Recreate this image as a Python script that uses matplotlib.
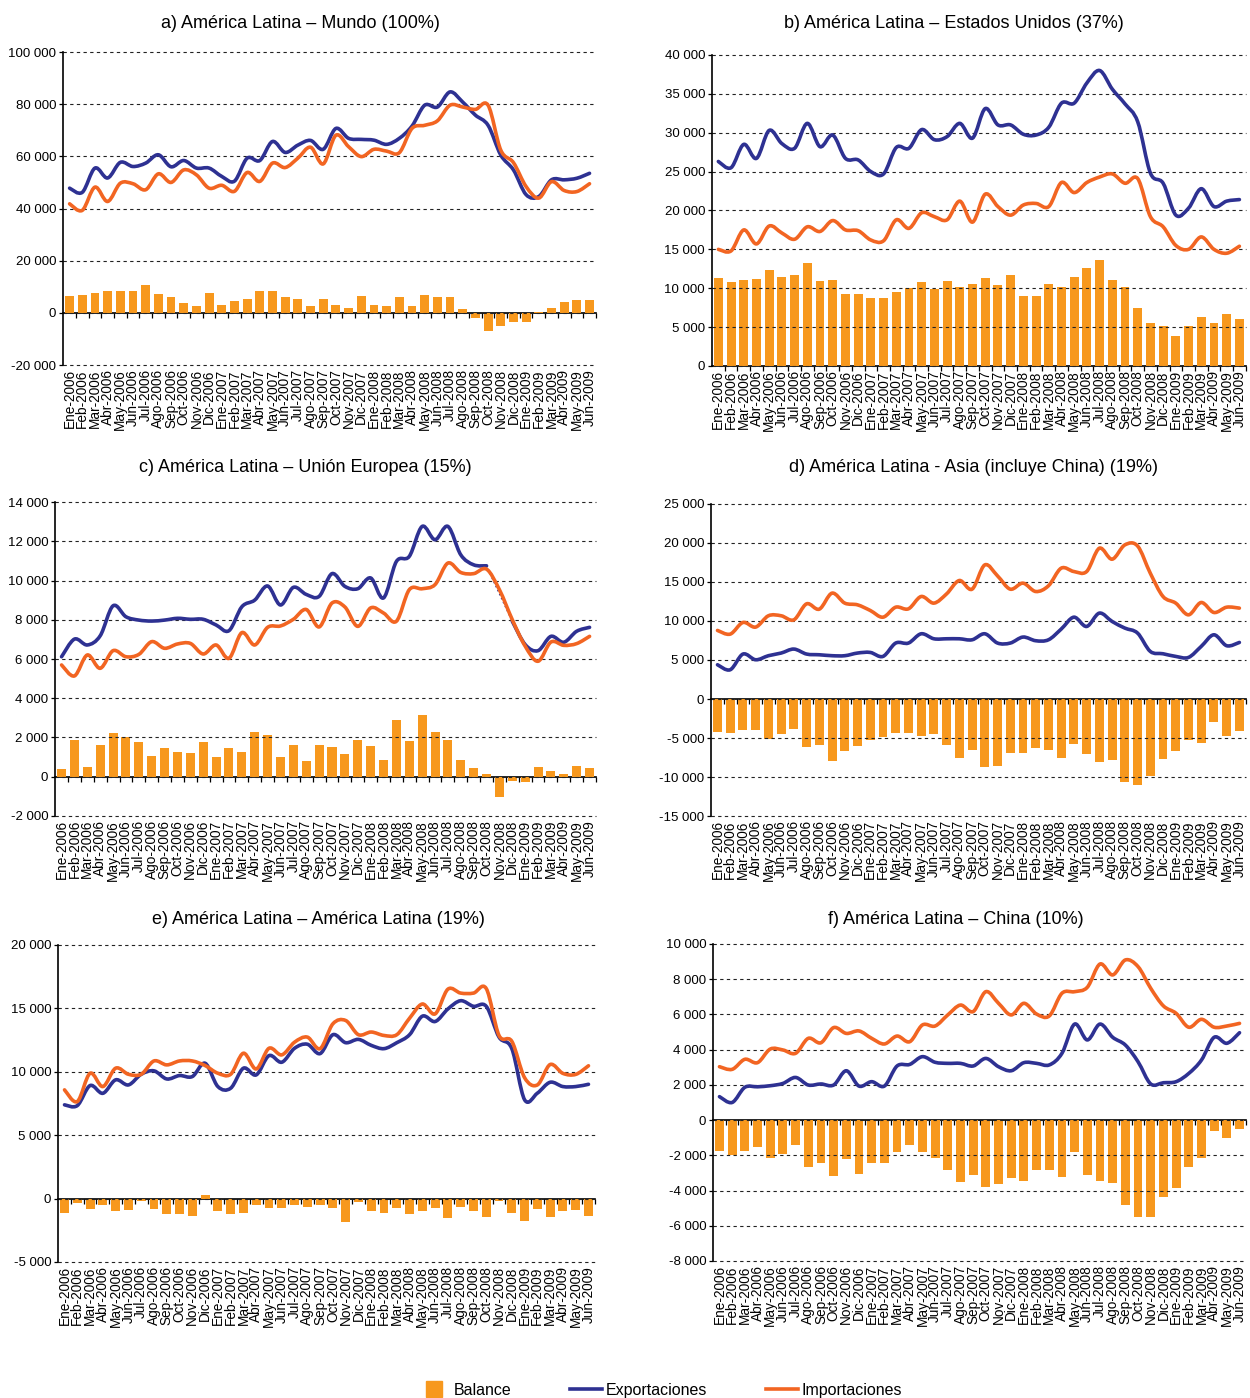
import numpy as np
import matplotlib
matplotlib.use("Agg")
import matplotlib.pyplot as plt
from matplotlib.ticker import FuncFormatter
from matplotlib.lines import Line2D
from matplotlib.path import Path
from matplotlib.patches import PathPatch

plt.rcParams['font.family'] = ['Liberation Sans', 'DejaVu Sans']

# ---- data (millones de dólares, Ene-2006 .. Jun-2009) ----
meses = ['Ene', 'Feb', 'Mar', 'Abr', 'May', 'Jun', 'Jul', 'Ago', 'Sep', 'Oct', 'Nov', 'Dic']
labels = [m + '-' + str(y) for y in (2006, 2007, 2008, 2009) for m in meses][:42]

a_bal = [6300, 6700, 7800, 8200, 8200, 8200, 10500, 7100, 5900, 3600, 2800, 7800, 3200, 4400,
         5500, 8200, 8200, 5900, 5500, 2800, 5500, 3200, 2000, 6600, 3200, 2800, 5900, 2800,
         7000, 5900, 5900, 1300, -2000, -7100, -5100, -3600, -3600, 500, 1700, 4300, 5100, 5100]
a_exp = [47800, 46200, 55500, 51700, 57700, 56100, 57400, 60600, 56000, 58400, 55500, 55500,
         52300, 50500, 59300, 58400, 65700, 61500, 64300, 66100, 62700, 70700, 66900, 66500,
         66200, 64600, 66900, 71600, 79600, 78900, 84700, 80800, 75800, 71900, 60500, 54800,
         45300, 44600, 51000, 51000, 51600, 53500]
a_imp = [41800, 39300, 48200, 42700, 49700, 49500, 47200, 53300, 50000, 54800, 52900, 47800,
         48900, 46600, 53800, 50400, 57400, 55700, 59300, 63500, 57100, 68100, 63700, 59900,
         62700, 62000, 61400, 70700, 71900, 73600, 79600, 78900, 78000, 79600, 62400, 57600,
         48400, 44000, 50300, 46900, 46500, 49500]

b_bal = [11300, 10800, 11000, 11200, 12300, 11400, 11700, 13300, 10900, 11000, 9200, 9200,
         8700, 8700, 9500, 10000, 10800, 9900, 10900, 10100, 10600, 11300, 10400, 11700, 9000,
         9000, 10600, 10100, 11400, 12600, 13600, 11000, 10100, 7400, 5500, 5200, 3800, 5100,
         6300, 5500, 6700, 6000]
b_exp = [26300, 25500, 28500, 26700, 30300, 28600, 28000, 31200, 28200, 29700, 26700, 26500,
         25000, 24700, 28100, 28000, 30400, 29100, 29500, 31200, 29300, 33100, 31000, 31000,
         29800, 29700, 30700, 33800, 33800, 36400, 38000, 35600, 33700, 31400, 24800, 23500,
         19400, 20300, 22800, 20500, 21200, 21400]
b_imp = [15000, 14800, 17500, 15700, 18000, 17100, 16300, 17900, 17300, 18700, 17500, 17400,
         16200, 16100, 18800, 17700, 19700, 19200, 18800, 21200, 18500, 22100, 20500, 19400,
         20700, 20900, 20500, 23600, 22300, 23600, 24300, 24700, 23500, 24100, 19200, 17900,
         15500, 15000, 16600, 15000, 14500, 15400]

c_bal = [400, 1870, 490, 1620, 2230, 2020, 1770, 1050, 1460, 1260, 1210, 1770, 1000, 1460,
         1260, 2280, 2130, 1000, 1620, 800, 1620, 1510, 1160, 1870, 1560, 850, 2890, 1820,
         3150, 2280, 1870, 850, 440, 140, -1020, -200, -270, 490, 290, 140, 540, 440]
c_exp = [6120, 7020, 6720, 7190, 8720, 8160, 7990, 7940, 7990, 8080, 8030, 8030, 7740, 7450,
         8670, 9010, 9730, 8760, 9660, 9300, 9200, 10360, 9710, 9590, 10140, 9120, 10980,
         11240, 12770, 12090, 12770, 11320, 10810, 10760, np.nan, 7930, 6740, 6430, 7160,
         6860, 7420, 7620]
c_imp = [5700, 5140, 6210, 5530, 6430, 6120, 6240, 6890, 6550, 6770, 6800, 6260, 6720, 6040,
         7350, 6720, 7620, 7690, 8030, 8530, 7640, 8860, 8660, 7670, 8610, 8350, 7930, 9540,
         9590, 9800, 10900, 10420, 10360, 10590, 9540, 8010, 6660, 5890, 6870, 6700, 6790, 7160]

d_bal = [-4270, -4390, -4010, -4010, -5160, -4520, -3880, -6190, -5930, -7980, -6700, -6060,
         -5290, -4910, -4390, -4390, -4780, -4520, -5930, -7590, -6570, -8750, -8620, -6960,
         -6960, -6310, -6570, -7590, -5800, -7080, -8110, -7850, -10670, -11050, -9900, -7720,
         -6700, -5290, -5670, -2990, -4780, -4140]
d_exp = [4390, 3750, 5760, 5030, 5550, 5890, 6400, 5760, 5670, 5550, 5550, 5890, 5970, 5460,
         7170, 7170, 8360, 7720, 7720, 7720, 7590, 8360, 7170, 7170, 7940, 7470, 7590, 8960,
         10490, 9300, 11010, 9940, 9090, 8450, 6100, 5800, 5460, 5330, 6740, 8230, 6830, 7250]
d_imp = [8790, 8320, 9810, 9220, 10670, 10670, 10150, 12200, 11520, 13570, 12290, 12070,
         11350, 10490, 11770, 11560, 13140, 12290, 13480, 15190, 14080, 17190, 15780, 14080,
         14850, 13780, 14510, 16770, 16340, 16340, 19330, 17920, 19750, 19620, 16130, 13140,
         12290, 10790, 12370, 11090, 11770, 11650]

e_bal = [-1100, -320, -790, -470, -950, -870, -160, -790, -1180, -1180, -1340, 320, -950,
         -1180, -1100, -470, -710, -710, -470, -630, -470, -710, -1810, -240, -950, -1100,
         -710, -1180, -950, -710, -1500, -630, -950, -1420, -160, -1100, -1730, -790, -1420,
         -950, -870, -1340]
e_exp = [7390, 7330, 8910, 8300, 9360, 8960, 9800, 10070, 9430, 9700, 9620, 10670, 8830, 8700,
         10280, 9750, 11270, 10750, 11850, 12170, 11430, 12920, 12290, 12550, 12080, 11820,
         12290, 12920, 14380, 13960, 14950, 15600, 15160, 15160, 12730, 11820, 7790, 8310,
         9170, 8830, 8830, 9010]
e_imp = [8570, 7650, 9880, 8830, 10280, 9800, 9800, 10850, 10540, 10850, 10850, 10490, 9880,
         9800, 11460, 10220, 11850, 11330, 12330, 12730, 11820, 13780, 14040, 12920, 13130,
         12860, 12920, 14220, 15340, 14560, 16510, 16200, 16200, 16560, 12860, 12400, 9530,
         8960, 10570, 9870, 9790, 10470]

f_bal = [-1740, -1990, -1740, -1520, -2140, -1910, -1400, -2650, -2420, -3160, -2200, -3050,
         -2420, -2420, -1800, -1400, -1800, -2140, -2820, -3500, -3100, -3790, -3620, -3280,
         -3450, -2820, -2820, -3220, -1800, -3100, -3450, -3560, -4810, -5490, -5490, -4350,
         -3840, -2650, -2140, -610, -1000, -490]
f_exp = [1330, 1000, 1860, 1890, 1950, 2080, 2420, 1990, 2050, 1990, 2800, 1930, 2180, 1930,
         3070, 3160, 3600, 3280, 3220, 3220, 3070, 3500, 3030, 2800, 3260, 3220, 3130, 3790,
         5450, 4550, 5450, 4700, 4260, 3310, 2050, 2120, 2180, 2650, 3410, 4700, 4360, 4960]
f_imp = [3030, 2880, 3450, 3260, 4030, 3980, 3790, 4640, 4390, 5250, 4920, 5060, 4640, 4320,
         4770, 4450, 5400, 5340, 5970, 6530, 6160, 7290, 6630, 5970, 6630, 6020, 5910, 7200,
         7290, 7540, 8860, 8240, 9090, 8710, 7480, 6480, 6060, 5270, 5720, 5270, 5340, 5490]

BAR = '#F7981D'
BLUE = '#2E3192'
ORANGE = '#F26522'


def miles(v, pos):
    return '{:,}'.format(int(round(v))).replace(',', ' ')


def smooth(ax, x, y, color, z):
    # smoothed line (bezier through every point, like the spreadsheet chart)
    y = np.asarray(y, dtype=float)
    ok = ~np.isnan(y)
    runs = np.split(np.arange(len(y)), np.where(np.diff(ok))[0] + 1)
    for run in runs:
        if not ok[run[0]] or len(run) < 2:
            continue
        p = np.column_stack([x[run], y[run]])
        n = len(p)
        verts = [p[0]]
        codes = [Path.MOVETO]
        for i in range(n - 1):
            p0 = p[i - 1] if i > 0 else p[i]
            p3 = p[i + 2] if i + 2 < n else p[i + 1]
            verts += [p[i] + (p[i + 1] - p0) / 6, p[i + 1] - (p3 - p[i]) / 6, p[i + 1]]
            codes += [Path.CURVE4] * 3
        ax.add_patch(PathPatch(Path(verts, codes), fill=False, edgecolor=color, lw=2.6,
                               zorder=z, joinstyle='round', capstyle='round'))


fig = plt.figure(figsize=(12.5, 13.98), dpi=100)


def panel(rect, bal, exp, imp, ylo, yhi, step):
    ax = fig.add_axes(rect)
    x = np.arange(len(labels))
    exp = np.array(exp, dtype=float)
    ax.bar(x, bal, width=0.7, color=BAR, zorder=1)
    smooth(ax, x, exp, BLUE, 3)
    # missing months joined with a dotted line
    for k in np.where(np.isnan(exp))[0]:
        ax.plot([k - 1, k + 1], [exp[k - 1], exp[k + 1]], color=BLUE, lw=1.2, ls=':', zorder=3)
    smooth(ax, x, imp, ORANGE, 4)

    ax.set_xlim(-0.5, len(labels) - 0.5)
    ax.set_ylim(ylo, yhi)
    ax.set_yticks(np.arange(ylo, yhi + 1, step))
    ax.yaxis.set_major_formatter(FuncFormatter(miles))
    ax.grid(axis='y', color='#222222', lw=0.8, linestyle=(0, (3, 3)))
    for gl in ax.get_ygridlines():
        gl.set_clip_on(False)
    ax.set_xticks(x)
    ax.set_xticklabels(labels, rotation=90, fontsize=9.8)
    ax.tick_params(axis='x', length=0, pad=3)
    ax.tick_params(axis='y', length=3, width=0.9, pad=2, labelsize=9.5, direction='out')
    for s in ('top', 'right', 'bottom'):
        ax.spines[s].set_visible(False)
    ax.spines['left'].set_linewidth(1.2)

    # category axis drawn at zero
    sec = ax.secondary_xaxis((0 - ylo) / (yhi - ylo))
    sec.set_xticks(np.arange(0.5, len(labels), 1))
    sec.tick_params(axis='x', direction='out', length=3.5, width=0.9,
                    labelbottom=False, labeltop=False)
    sec.spines['top'].set_visible(False)
    sec.spines['bottom'].set_linewidth(1.2)
    return ax


panel([0.0506, 0.7389, 0.4261, 0.2239], a_bal, a_exp, a_imp, -20000, 100000, 20000)
panel([0.5696, 0.7382, 0.4270, 0.2225], b_bal, b_exp, b_imp, 0, 40000, 5000)
panel([0.0441, 0.4164, 0.4327, 0.2243], c_bal, c_exp, c_imp, -2000, 14000, 2000)
panel([0.5689, 0.4163, 0.4277, 0.2232], d_bal, d_exp, d_imp, -15000, 25000, 5000)
panel([0.0465, 0.0973, 0.4294, 0.2268], e_bal, e_exp, e_imp, -5000, 20000, 5000)
panel([0.5705, 0.0980, 0.4262, 0.2268], f_bal, f_exp, f_imp, -8000, 10000, 2000)

tfs = 13
fig.text(0.240, 0.9835, 'a) América Latina – Mundo (100%)', ha='center', va='center', fontsize=tfs)
fig.text(0.763, 0.9835, 'b) América Latina – Estados Unidos (37%)', ha='center', va='center', fontsize=tfs)
fig.text(0.244, 0.6655, 'c) América Latina – Unión Europea (15%)', ha='center', va='center', fontsize=tfs)
fig.text(0.779, 0.6655, 'd) América Latina - Asia (incluye China) (19%)', ha='center', va='center', fontsize=tfs)
fig.text(0.255, 0.3425, 'e) América Latina – América Latina (19%)', ha='center', va='center', fontsize=tfs)
fig.text(0.765, 0.3425, 'f) América Latina – China (10%)', ha='center', va='center', fontsize=tfs)

handles = [Line2D([0], [0], marker='s', ls='none', color=BAR, markersize=11),
           Line2D([0], [0], color=BLUE, lw=2.6),
           Line2D([0], [0], color=ORANGE, lw=2.6)]
fig.legend(handles, ['Balance', 'Exportaciones', 'Importaciones'], loc='center',
           bbox_to_anchor=(0.528, 0.0055), ncol=3, frameon=False, fontsize=11.5,
           handlelength=2.0, columnspacing=3.7, handletextpad=0.2, borderpad=0)

fig.savefig('out.png', dpi=100)
